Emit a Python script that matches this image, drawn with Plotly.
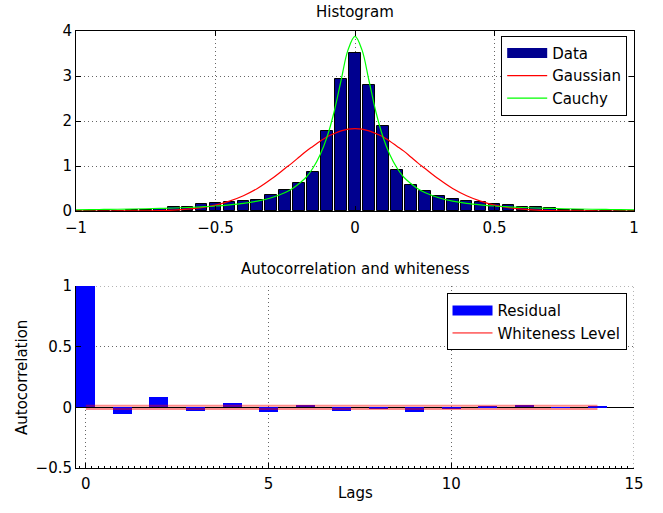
import plotly.graph_objects as go

# ---------------- data ----------------
hist_centers = [-1.0, -0.95, -0.9, -0.85, -0.8, -0.75, -0.7, -0.65, -0.6, -0.55,
                -0.5, -0.45, -0.4, -0.35, -0.3, -0.25, -0.2, -0.15, -0.1, -0.05,
                0.0, 0.05, 0.1, 0.15, 0.2, 0.25, 0.3, 0.35, 0.4, 0.45,
                0.5, 0.55, 0.6, 0.65, 0.7, 0.75, 0.8, 0.85, 0.9, 0.95, 1.0]
hist_density = [0.005, 0.005, 0.01, 0.01, 0.015, 0.03, 0.04, 0.08, 0.10, 0.15,
                0.17, 0.19, 0.22, 0.25, 0.35, 0.47, 0.62, 0.87, 1.77, 2.94,
                3.52, 2.79, 1.88, 0.92, 0.58, 0.44, 0.33, 0.27, 0.23, 0.19,
                0.16, 0.13, 0.10, 0.08, 0.06, 0.03, 0.02, 0.01, 0.01, 0.005, 0.005]

curve_x = [-1.0, -0.95, -0.9, -0.85, -0.8, -0.75, -0.7, -0.65, -0.6, -0.55,
           -0.5, -0.45, -0.4, -0.35, -0.3, -0.25, -0.225, -0.2, -0.175, -0.15,
           -0.125, -0.1, -0.075, -0.05, -0.025, 0.0, 0.025, 0.05, 0.075, 0.1,
           0.125, 0.15, 0.175, 0.2, 0.225, 0.25, 0.3, 0.35, 0.4, 0.45,
           0.5, 0.55, 0.6, 0.65, 0.7, 0.75, 0.8, 0.85, 0.9, 0.95, 1.0]
gaussian_y = [0.0, 0.0, 0.0, 0.001, 0.002, 0.005, 0.010, 0.021, 0.041, 0.076,
              0.13, 0.22, 0.34, 0.50, 0.71, 0.95, 1.07, 1.20, 1.33, 1.44,
              1.55, 1.65, 1.72, 1.78, 1.82, 1.83, 1.82, 1.78, 1.72, 1.65,
              1.55, 1.44, 1.33, 1.20, 1.07, 0.95, 0.71, 0.50, 0.34, 0.22,
              0.13, 0.076, 0.041, 0.021, 0.010, 0.005, 0.002, 0.001, 0.0, 0.0, 0.0]
cauchy_y = [0.028, 0.031, 0.035, 0.039, 0.044, 0.050, 0.058, 0.067, 0.078, 0.093,
            0.111, 0.137, 0.171, 0.221, 0.295, 0.41, 0.495, 0.61, 0.75, 0.96,
            1.25, 1.65, 2.20, 2.90, 3.58, 3.88, 3.58, 2.90, 2.20, 1.65,
            1.25, 0.96, 0.75, 0.61, 0.495, 0.41, 0.295, 0.221, 0.171, 0.137,
            0.111, 0.093, 0.078, 0.067, 0.058, 0.050, 0.044, 0.039, 0.035, 0.031, 0.028]

lags = [0, 1, 2, 3, 4, 5, 6, 7, 8, 9, 10, 11, 12, 13, 14]
acf_values = [1.0, -0.052, 0.083, -0.027, 0.039, -0.036, 0.02, -0.027,
              -0.012, -0.036, -0.012, 0.004, 0.02, -0.004, 0.012]
whiteness_level = 0.014

hist_xticks = [-1, -0.5, 0, 0.5, 1]
hist_yticks = [0, 1, 2, 3, 4]
acf_xticks = [0, 5, 10, 15]
acf_yticks = [-0.5, 0, 0.5, 1]

# ---------------- figure ----------------
FONT = "DejaVu Sans"
GRID = "#666666"
GRID_DASH = "1px,3px"
fig = go.Figure()

# histogram
fig.add_trace(go.Bar(x=hist_centers, y=hist_density, width=0.042,
                     marker=dict(color="#00008F", line=dict(color="black", width=1)),
                     showlegend=False, xaxis="x", yaxis="y"))
fig.add_trace(go.Scatter(x=[None], y=[None], mode="lines", name="Data",
                         line=dict(color="#00008F", width=10),
                         xaxis="x", yaxis="y", legend="legend"))
fig.add_trace(go.Scatter(x=curve_x, y=gaussian_y, mode="lines", name="Gaussian",
                         line=dict(color="#FF0000", width=1.2, shape="spline"),
                         xaxis="x", yaxis="y", legend="legend"))
fig.add_trace(go.Scatter(x=curve_x, y=cauchy_y, mode="lines", name="Cauchy",
                         line=dict(color="#00FF00", width=1.2, shape="spline"),
                         xaxis="x", yaxis="y", legend="legend"))

# autocorrelation
fig.add_trace(go.Bar(x=lags, y=acf_values, width=0.52,
                     marker=dict(color="#0000FF", line=dict(width=0)),
                     showlegend=False, xaxis="x2", yaxis="y2"))
fig.add_trace(go.Scatter(x=[None], y=[None], mode="lines", name="Residual",
                         line=dict(color="#0000FF", width=10),
                         xaxis="x2", yaxis="y2", legend="legend2"))
fig.add_trace(go.Scatter(x=lags, y=[whiteness_level] * len(lags), mode="lines",
                         line=dict(color="rgba(255,0,0,0.45)", width=2),
                         showlegend=False, xaxis="x2", yaxis="y2"))
fig.add_trace(go.Scatter(x=lags, y=[-whiteness_level] * len(lags), mode="lines",
                         line=dict(color="rgba(255,0,0,0.45)", width=2),
                         showlegend=False, xaxis="x2", yaxis="y2"))
fig.add_trace(go.Scatter(x=[None], y=[None], mode="lines", name="Whiteness Level",
                         line=dict(color="#FF0000", width=1),
                         xaxis="x2", yaxis="y2", legend="legend2"))

axis_common = dict(showgrid=True, gridcolor=GRID, griddash=GRID_DASH, gridwidth=1,
                   ticks="inside", ticklen=5, tickcolor="black", tickwidth=1,
                   showline=True, linecolor="black", linewidth=1,
                   tickfont=dict(family=FONT, size=15, color="black"),
                   zeroline=False)

fig.update_layout(
    width=663, height=513,
    margin=dict(l=76, r=29, t=31, b=45),
    paper_bgcolor="white", plot_bgcolor="white",
    font=dict(family=FONT, size=15, color="black"),
    bargap=0,
    xaxis=dict(axis_common, domain=[0, 1], range=[-1, 1], tickvals=hist_xticks,
               mirror="ticks", anchor="y", ticklabelstandoff=3),
    yaxis=dict(axis_common, domain=[0.5881, 1], range=[0, 4], tickvals=hist_yticks,
               mirror="ticks", anchor="x"),
    xaxis2=dict(axis_common, domain=[0, 1], range=[-0.27, 15], tickvals=acf_xticks,
                anchor="y2", ticklabelstandoff=2,
                minor=dict(ticks="inside", ticklen=2, tickcolor="black",
                           dtick=1 / 6, tick0=0, showgrid=False)),
    yaxis2=dict(axis_common, domain=[0, 0.4165], range=[-0.5, 1], tickvals=acf_yticks,
                anchor="x2", zeroline=True, zerolinecolor="black", zerolinewidth=1),
    legend=dict(x=0.762, y=0.989, xanchor="left", yanchor="top",
                bgcolor="white", bordercolor="black", borderwidth=1,
                font=dict(family=FONT, size=15, color="black"),
                itemwidth=40, tracegroupgap=0),
    legend2=dict(x=0.664, y=0.400, xanchor="left", yanchor="top",
                 bgcolor="white", bordercolor="black", borderwidth=1,
                 font=dict(family=FONT, size=15, color="black"),
                 itemwidth=40, tracegroupgap=0),
    annotations=[
        dict(text="Histogram", xref="paper", yref="paper", x=0.5, y=1.043,
             showarrow=False, xanchor="center", yanchor="middle",
             font=dict(family=FONT, size=15, color="black")),
        dict(text="Autocorrelation and whiteness", xref="paper", yref="paper",
             x=0.5, y=0.455, showarrow=False, xanchor="center", yanchor="middle",
             font=dict(family=FONT, size=15, color="black")),
        dict(text="Lags", xref="paper", yref="paper", x=0.5, y=-0.057,
             showarrow=False, xanchor="center", yanchor="middle",
             font=dict(family=FONT, size=15, color="black")),
        dict(text="Autocorrelation", xref="paper", yref="paper", x=-0.097, y=0.208,
             showarrow=False, xanchor="center", yanchor="middle", textangle=-90,
             font=dict(family=FONT, size=15, color="black")),
    ],
    shapes=[
        dict(type="line", xref="x2", yref="y2", x0=acf_xticks[-1], x1=acf_xticks[-1],
             y0=acf_yticks[0], y1=acf_yticks[-1],
             line=dict(color=GRID, width=1, dash=GRID_DASH), layer="below"),
        dict(type="line", xref="x2", yref="y2", x0=-0.27, x1=acf_xticks[-1],
             y0=acf_yticks[-1], y1=acf_yticks[-1],
             line=dict(color=GRID, width=1, dash=GRID_DASH), layer="below"),
    ],
)

fig.write_html("out.html", config={"displayModeBar": False},
               post_script="document.body.style.margin='0';document.body.style.padding='0';")
